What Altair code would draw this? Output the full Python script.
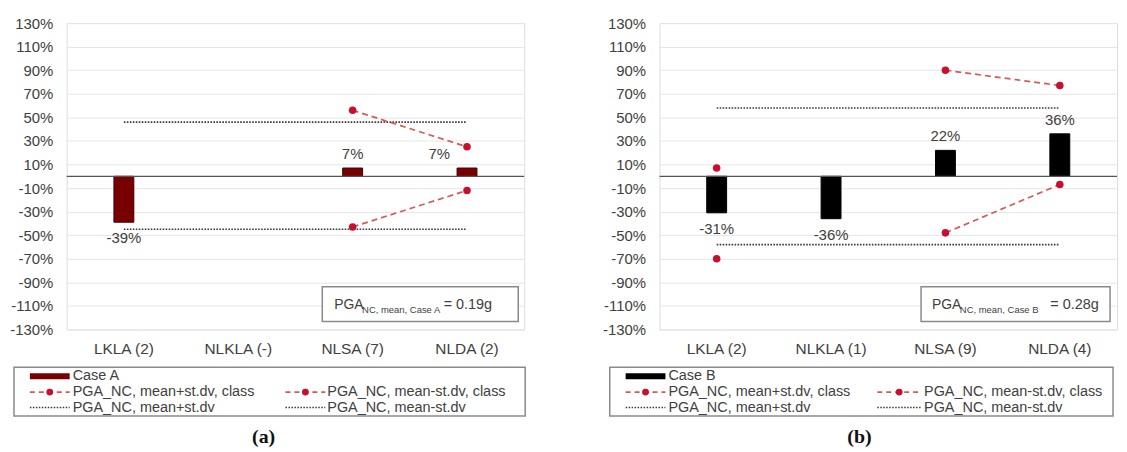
import altair as alt
import pandas as pd

# ---------------- data ----------------
categories_a = ["LKLA (2)", "NLKLA (-)", "NLSA (7)", "NLDA (2)"]
case_a = [-39, None, 7, 7]
class_plus_a = [None, None, 56, 25]
class_minus_a = [None, None, -43, -12]
overall_plus_a = 46
overall_minus_a = -45

categories_b = ["LKLA (2)", "NLKLA (1)", "NLSA (9)", "NLDA (4)"]
case_b = [-31, -36, 22, 36]
class_plus_b = [7, None, 90, 77]
class_minus_b = [-70, None, -48, -7]
overall_plus_b = 58
overall_minus_b = -58

y_ticks = list(range(-130, 131, 20))
legend_labels = [
    "PGA_NC, mean+st.dv, class",
    "PGA_NC, mean-st.dv, class",
    "PGA_NC, mean+st.dv",
    "PGA_NC, mean-st.dv",
]

FONT = "Liberation Sans"
TXT = "#404040"
RED = "#c8102e"
DASH_RED = "#d45a5a"
DOT = "#3a3a3a"
W, H = 460, 308


def runs(cats, vals, name):
    rows, grp, prev = [], 0, False
    for c, v in zip(cats, vals):
        if v is None:
            prev = False
            continue
        if not prev:
            grp += 1
        prev = True
        rows.append({"cat": c, "v": v, "grp": f"{name}{grp}"})
    return rows


def panel(cats, bars, cplus, cminus, oplus, ominus, case_name, sub, pga,
          caption, bar_fill, bar_stroke, lay):
    xs = alt.X("cat:N", sort=cats,
               scale=alt.Scale(domain=cats, paddingInner=0, paddingOuter=0),
               axis=alt.Axis(title=None, labelAngle=0, ticks=False, domain=False,
                             grid=False, labelPadding=12, labelFontSize=15.5,
                             labelColor=TXT, labelFont=FONT))
    ys = alt.Y("v:Q", scale=alt.Scale(domain=[-130, 130], nice=False, zero=False),
               axis=alt.Axis(title=None, values=y_ticks,
                             labelExpr="datum.value + '%'", grid=True,
                             gridColor="#e6e6e6", ticks=False, domain=False,
                             labelPadding=14, labelFontSize=15,
                             labelColor=TXT, labelFont=FONT))

    bar_df = pd.DataFrame([{"cat": c, "v": v, "lab": f"{v}%"}
                           for c, v in zip(cats, bars) if v is not None])
    cls_df = pd.DataFrame(runs(cats, cplus, "p") + runs(cats, cminus, "m"))
    ov_df = pd.DataFrame([
        {"cat": cats[0], "v": oplus, "s": "p"}, {"cat": cats[-1], "v": oplus, "s": "p"},
        {"cat": cats[0], "v": ominus, "s": "m"}, {"cat": cats[-1], "v": ominus, "s": "m"},
    ])
    zero_df = pd.DataFrame({"v": [0]})
    one = pd.DataFrame({"k": [0]})
    shifted = lay.get("shift_label")  # (category, dx) nudge of one value label

    layers = []
    layers.append(alt.Chart(bar_df).mark_bar(size=20, fill=bar_fill, stroke=bar_stroke,
                                             strokeWidth=1).encode(x=xs, y=ys, y2=alt.datum(0)))
    layers.append(alt.Chart(ov_df).mark_line(color=DOT, strokeWidth=1.6,
                                             strokeDash=[1.6, 1.4]).encode(x=xs, y=ys, detail="s:N"))
    layers.append(alt.Chart(zero_df).mark_rule(color="#555555", strokeWidth=1.3).encode(y=ys))
    layers.append(alt.Chart(cls_df).mark_line(color=DASH_RED, strokeWidth=1.7,
                                              strokeDash=[6, 4]).encode(x=xs, y=ys, detail="grp:N"))
    layers.append(alt.Chart(cls_df).mark_circle(size=58, color=RED, opacity=1).encode(x=xs, y=ys))

    skip = f" && datum.cat != '{shifted[0]}'" if shifted else ""
    layers.append(alt.Chart(bar_df).transform_filter("datum.v >= 0" + skip).mark_text(
        dy=-14, baseline="middle", fontSize=15, font=FONT, color=TXT).encode(x=xs, y=ys, text="lab:N"))
    layers.append(alt.Chart(bar_df).transform_filter("datum.v < 0" + skip).mark_text(
        dy=16, baseline="middle", fontSize=15, font=FONT, color=TXT).encode(x=xs, y=ys, text="lab:N"))
    if shifted:
        layers.append(alt.Chart(bar_df).transform_filter(f"datum.cat == '{shifted[0]}'").mark_text(
            dx=shifted[1], dy=-14, baseline="middle", fontSize=15, font=FONT, color=TXT).encode(
            x=xs, y=ys, text="lab:N"))

    # PGA annotation box
    bx0, bx1, by0, by1, tx, sx, ex, ty = lay["box"]
    layers.append(alt.Chart(one).mark_rect(fill="white", stroke="#8a8a8a", strokeWidth=1.5).encode(
        x=alt.value(bx0), x2=alt.value(bx1), y=alt.value(by0), y2=alt.value(by1)))
    layers.append(alt.Chart(one).mark_text(text="PGA", align="left", baseline="middle", fontSize=14,
                                           font=FONT, color=TXT).encode(x=alt.value(tx), y=alt.value(ty)))
    layers.append(alt.Chart(one).mark_text(text=sub, align="left", baseline="middle", fontSize=9.5,
                                           font=FONT, color=TXT).encode(x=alt.value(sx), y=alt.value(ty + 5)))
    layers.append(alt.Chart(one).mark_text(text=f"= {pga}", align="left", baseline="middle", fontSize=14.5,
                                           font=FONT, color=TXT).encode(x=alt.value(ex), y=alt.value(ty)))

    # custom legend
    lx0, lx1, ly0, ly1 = lay["legend"]
    r1, r2, r3 = lay["rows"]
    s0, s1, t0 = lay["col1"]
    c0, c1, u0 = lay["col2"]
    layers.append(alt.Chart(one).mark_rect(fill="white", stroke="#8a8a8a", strokeWidth=1.5).encode(
        x=alt.value(lx0), x2=alt.value(lx1), y=alt.value(ly0), y2=alt.value(ly1)))
    layers.append(alt.Chart(one).mark_rule(color=bar_fill, strokeWidth=6).encode(
        x=alt.value(s0), x2=alt.value(s1), y=alt.value(r1)))
    for (a0, a1, ttx), lab, row, kind in [
        ((s0, s1, t0), legend_labels[0], r2, "cls"),
        ((c0, c1, u0), legend_labels[1], r2, "cls"),
        ((s0, s1, t0), legend_labels[2], r3, "ov"),
        ((c0, c1, u0), legend_labels[3], r3, "ov"),
    ]:
        if kind == "cls":
            layers.append(alt.Chart(one).mark_rule(color=DASH_RED, strokeWidth=1.7, strokeDash=[5, 4]).encode(
                x=alt.value(a0), x2=alt.value(a1), y=alt.value(row)))
            layers.append(alt.Chart(one).mark_circle(size=48, color=RED, opacity=1).encode(
                x=alt.value((a0 + a1) / 2), y=alt.value(row)))
        else:
            layers.append(alt.Chart(one).mark_rule(color=DOT, strokeWidth=1.4, strokeDash=[1.5, 1.5]).encode(
                x=alt.value(a0), x2=alt.value(a1), y=alt.value(row)))
        layers.append(alt.Chart(one).mark_text(text=lab, align="left", baseline="middle", fontSize=14.5,
                                               font=FONT, color=TXT).encode(x=alt.value(ttx), y=alt.value(row)))
    layers.append(alt.Chart(one).mark_text(text=case_name, align="left", baseline="middle", fontSize=14.5,
                                           font=FONT, color=TXT).encode(x=alt.value(t0), y=alt.value(r1)))
    cx, cy = lay["caption"]
    layers.append(alt.Chart(one).mark_text(text=caption, align="center", baseline="middle", fontSize=20,
                                           font="Liberation Serif", fontWeight="bold", color="#111111").encode(
        x=alt.value(cx), y=alt.value(cy)))

    return alt.layer(*layers).properties(width=W, height=H)


lay_a = {
    "box": (257, 454, 265, 300, 269, 297, 379, 283),
    "legend": (-53, 461, 346, 395),
    "rows": (355, 371, 386.5),
    "col1": (-37, 3, 6),
    "col2": (220, 260, 262),
    "caption": (198, 416),
    "shift_label": ("NLDA (2)", -28),
}
lay_b = {
    "box": (263, 453, 265, 300, 274, 302, 393, 283),
    "legend": (-50, 456, 346, 395),
    "rows": (355, 371, 386.5),
    "col1": (-34, 6, 9),
    "col2": (219, 263, 266),
    "caption": (201, 416),
}

pa = panel(categories_a, case_a, class_plus_a, class_minus_a, overall_plus_a, overall_minus_a,
           "Case A", "NC, mean, Case A", "0.19g", "(a)", "#780000", "#3d0000", lay_a)
pb = panel(categories_b, case_b, class_plus_b, class_minus_b, overall_plus_b, overall_minus_b,
           "Case B", "NC, mean, Case B", "0.28g", "(b)", "#000000", "#000000", lay_b)

chart = alt.hconcat(pa, pb, spacing=75).properties(
    padding={"left": 1, "top": 6, "right": 0, "bottom": 0}
).configure_view(stroke="#9a9a9a", strokeWidth=1.5).configure(font=FONT)

chart.save("out.html", embed_options={"renderer": "svg", "actions": False})
